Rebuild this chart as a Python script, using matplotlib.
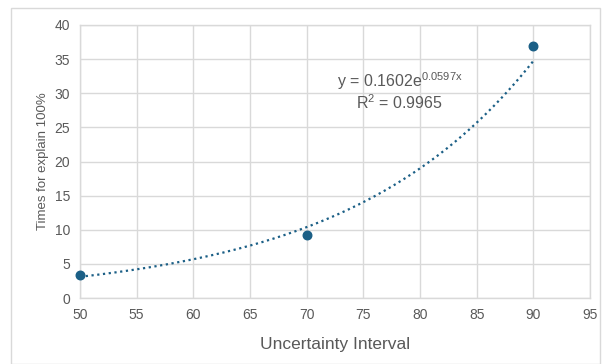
import numpy as np
import matplotlib
matplotlib.use("Agg")
import matplotlib.pyplot as plt
from matplotlib.patches import Rectangle

x_vals = [50, 70, 90]
y_vals = [3.3, 9.2, 36.9]
x_ticks = [50, 55, 60, 65, 70, 75, 80, 85, 90, 95]
y_ticks = [0, 5, 10, 15, 20, 25, 30, 35, 40]
eq_text = r"y = 0.1602e$^{\mathregular{0.0597x}}$"
r2_text = r"R$^{\mathregular{2}}$ = 0.9965"

plt.rcParams['font.family'] = ['Liberation Sans', 'DejaVu Sans']
color = '#1b5f86'
grey = '#595959'

fig = plt.figure(figsize=(6.12, 3.64), dpi=100)
fig.patches.append(Rectangle((11/612, 0.0), 589/612, 1 - 8/364, transform=fig.transFigure,
                             fill=False, edgecolor='#d9d9d9', linewidth=1.0))
ax = fig.add_axes([80/612, 1 - 298/364, 510/612, 273/364])

# exponential trendline from log-linear fit of the data
b, a = np.polyfit(x_vals, np.log(y_vals), 1)
xs = np.linspace(min(x_vals), max(x_vals), 200)
ax.plot(xs, np.exp(a) * np.exp(b * xs), linestyle=(0, (1, 1.6)), color=color, linewidth=1.6, zorder=3)
ax.scatter(x_vals, y_vals, s=38, color=color, zorder=4, clip_on=False)

ax.set_xlim(50, 95)
ax.set_ylim(0, 40)
ax.set_xticks(x_ticks)
ax.set_yticks(y_ticks)
ax.grid(True, color='#d9d9d9', linewidth=1.0)
ax.set_axisbelow(True)
for s in ax.spines.values():
    s.set_color('#d9d9d9')
    s.set_linewidth(1.0)
ax.tick_params(length=0, labelsize=10, colors=grey, pad=7)
ax.set_xlabel("Uncertainty Interval", fontsize=12.5, color=grey, labelpad=11)
ax.set_ylabel("Times for explain 100%", fontsize=9.5, color=grey, labelpad=4)

ax.text(78.2, 31.8, eq_text, fontsize=11.5, color=grey, ha='center', va='center')
ax.text(78.2, 28.6, r2_text, fontsize=11.5, color=grey, ha='center', va='center')

fig.savefig("out.png", dpi=100)
